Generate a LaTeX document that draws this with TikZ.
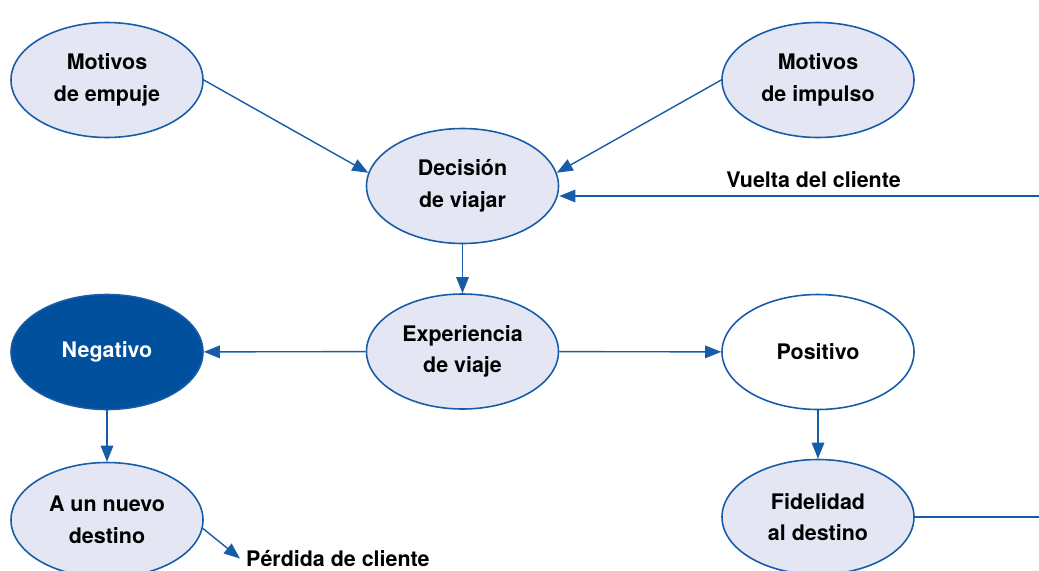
\documentclass[tikz,border=0pt]{standalone}
\usepackage{fontspec}
\setmainfont{TeX Gyre Heros}
\usepackage{tikz}
\usetikzlibrary{arrows.meta}
\usetikzlibrary{shapes.geometric}

\definecolor{lineblue}{RGB}{22,92,168}
\definecolor{palefill}{RGB}{228,231,243}
\definecolor{darkblue}{RGB}{0,80,158}

\tikzset{
  bubble/.style={ellipse, draw=lineblue, line width=0.9pt, fill=palefill,
    minimum width=3.84cm, minimum height=2.3cm, inner sep=0pt,
    align=center, font=\bfseries\fontsize{12.2}{18}\selectfont},
  flow/.style={draw=lineblue, line width=0.8pt, -{Triangle[length=3.2mm,width=2.5mm]}},
  tag/.style={font=\bfseries\fontsize{12.2}{14}\selectfont}
}

\begin{document}
\begin{tikzpicture}
          \useasboundingbox (0,0) rectangle (20.78,-11.4);
          \clip (0,0) rectangle (20.78,-11.4);
          % motives
          \node[bubble] (empuje) at (2.14,-1.6) {Motivos\\de empuje};
          \node[bubble] (impulso) at (16.36,-1.6) {Motivos\\de impulso};
          % decision and experience
          \node[bubble] (decision) at (9.25,-3.72) {Decisión\\de viajar};
          \node[bubble] (experiencia) at (9.25,-7.03) {Experiencia\\de viaje};
          % outcomes
          \node[bubble, fill=darkblue, text=white] (negativo) at (2.14,-7.04) {Negativo};
          \node[bubble, fill=white] (positivo) at (16.36,-7.04) {Positivo};
          \node[bubble] (nuevo) at (2.14,-10.4) {A un nuevo\\destino};
          \node[bubble] (fidelidad) at (16.36,-10.34) {Fidelidad\\al destino};
          % free ends on the right edge
          \coordinate (vuelta) at (20.78,-3.92);
          \coordinate (salida) at (20.78,-10.34);
          \node[tag, anchor=west] (perdida) at (4.8,-11.17) {Pérdida de cliente};
          % arrows into the decision
          \draw[flow] (empuje.east) -- (decision.172);
          \draw[flow] (impulso.west) -- (decision.8);
          \draw[flow] (vuelta) -- (decision.east |- vuelta) node[black,tag,pos=0.47,above=1pt] {Vuelta del cliente};
          % from decision to experience and outcomes
          \draw[flow] (decision) -- (experiencia);
          \draw[flow] (experiencia) -- (negativo);
          \draw[flow] (experiencia) -- (positivo);
          \draw[flow] (negativo) -- (nuevo);
          \draw[flow] (positivo) -- (fidelidad);
          \draw[flow] (nuevo.-5) -- (perdida.west);
          \draw[draw=lineblue, line width=0.8pt] (fidelidad.east) -- (salida);
        \end{tikzpicture}
\end{document}
